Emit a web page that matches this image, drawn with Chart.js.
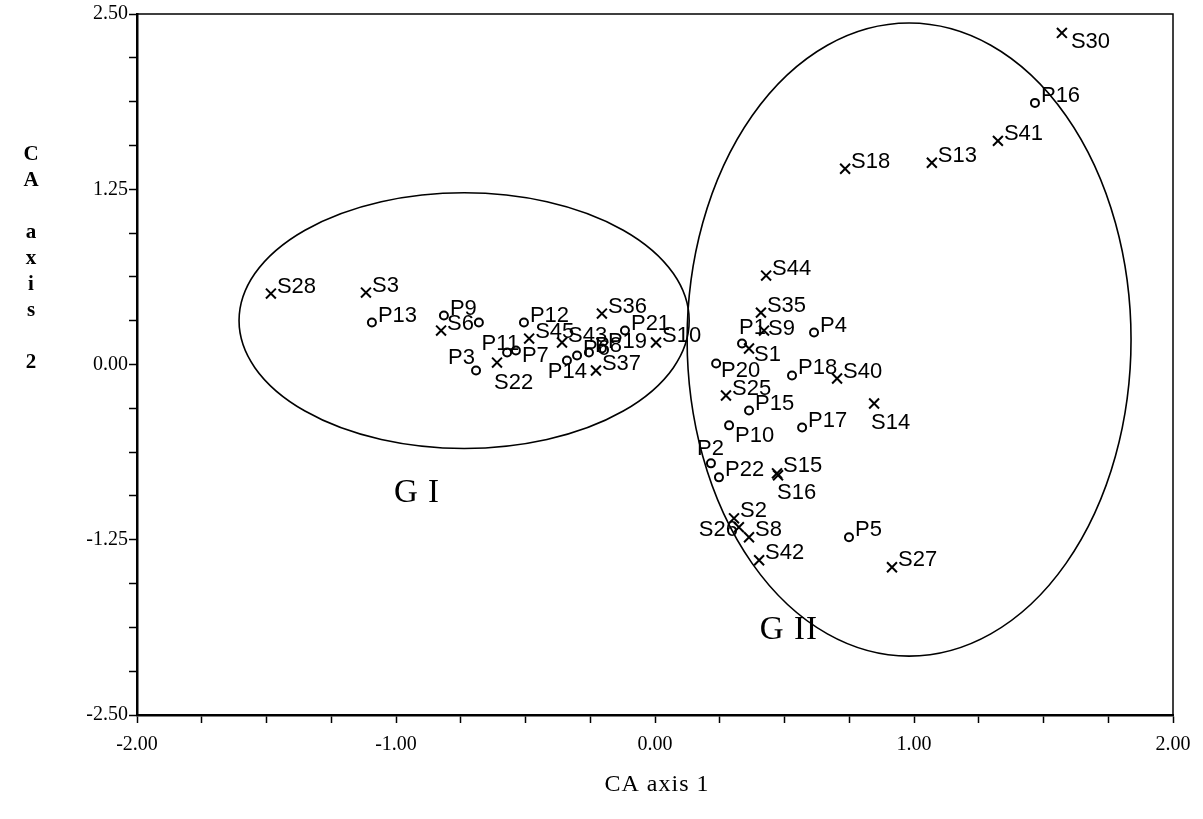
<!DOCTYPE html>
<html>
<head>
<meta charset="utf-8">
<script src="https://cdn.jsdelivr.net/npm/chart.js@4.4.1/dist/chart.umd.min.js"></script>
<style>
  html, body { margin: 0; padding: 0; background: #fff; }
  canvas { display: block; }
</style>
</head>
<body>
<canvas id="c" width="1203" height="819"></canvas>
<script>
// ---- data ----
const sNames = ['S1','S2','S3','S6','S8','S9','S10','S13','S14','S15','S16','S18','S22','S25','S26','S27','S28','S30','S35','S36','S37','S40','S41','S42','S43','S44','S45'];
const sX = [0.363, 0.305, -1.116, -0.826, 0.363, 0.421, 0.004, 1.069, 0.846, 0.471, 0.475, 0.734, -0.610, 0.274, 0.324, 0.915, -1.483, 1.571, 0.409, -0.205, -0.228, 0.703, 1.324, 0.402, -0.359, 0.429, -0.486];
const sY = [0.114, -1.097, 0.513, 0.242, -1.232, 0.242, 0.157, 1.439, -0.278, -0.776, -0.790, 1.396, 0.014, -0.221, -1.161, -1.446, 0.506, 2.365, 0.370, 0.363, -0.043, -0.100, 1.595, -1.396, 0.157, 0.634, 0.185];

const pNames = ['P1','P2','P3','P4','P5','P6','P7','P8','P9','P10','P11','P12','P13','P14','P15','P16','P17','P18','P19','P20','P21','P22',''];
const pX = [0.336, 0.216, -0.691, 0.614, 0.749, -0.301, -0.537, -0.255, -0.815, 0.286, -0.571, -0.506, -1.093, -0.340, 0.363, 1.467, 0.568, 0.529, -0.205, 0.236, -0.116, 0.247, -0.680];
const pY = [0.150, -0.705, -0.043, 0.228, -1.232, 0.064, 0.100, 0.085, 0.349, -0.434, 0.085, 0.299, 0.299, 0.028, -0.328, 1.866, -0.449, -0.078, 0.114, 0.007, 0.242, -0.805, 0.299];

// group ellipses (centre and semi-axes in data units) and their captions
const groupNames = ['G I', 'G II'];
const groupCx = [-0.737, 0.981];
const groupCy = [0.313, 0.178];
const groupRx = [0.869, 0.857];
const groupRy = [0.912, 2.258];
const groupLabelX = [-0.919, 0.517];
const groupLabelY = [-0.919, -1.895];

// axis tick settings
const xMin = -2, xMax = 2, xStep = 0.25, xLabelEvery = 1;
const yMin = -2.5, yMax = 2.5, yStep = 0.3125, yLabelEvery = 1.25;
const xTitle = 'CA axis 1';
const yTitleLines = ['C','A','','a','x','i','s','','2'];

// label placement overrides: [dx, dy, align]
const labelPlace = {
  S30: [9, 9, 'left'],
  P1: [-3, -16, 'left'],
  S1: [5, 6, 'left'],
  P20: [5, 7, 'left'],
  S14: [-3, 19, 'left'],
  S16: [-1, 18, 'left'],
  S22: [-3, 20, 'left'],
  P10: [6, 11, 'left'],
  P2: [13, -14, 'right'],
  P3: [-1, -13, 'right'],
  P11: [12, -9, 'right'],
  S26: [-1, 3, 'right'],
  P7: [6, 5, 'left'],
  P14: [20, 11, 'right'],
  S9: [4, -2, 'left']
};

const SERIF = '"Liberation Serif", "Times New Roman", serif';
const SANS = '"Liberation Sans", Arial, sans-serif';

const decor = {
  id: 'decor',
  beforeDatasetsDraw(chart) {
    const { ctx, chartArea: a, scales: { x, y } } = chart;
    ctx.save();
    // frame
    ctx.strokeStyle = '#000';
    ctx.lineWidth = 1.5;
    ctx.strokeRect(a.left, a.top, a.right - a.left, a.bottom - a.top);
    // ellipses
    ctx.lineWidth = 1.6;
    for (let i = 0; i < groupNames.length; i++) {
      const cx = x.getPixelForValue(groupCx[i]);
      const cy = y.getPixelForValue(groupCy[i]);
      const rx = Math.abs(x.getPixelForValue(groupCx[i] + groupRx[i]) - cx);
      const ry = Math.abs(y.getPixelForValue(groupCy[i] + groupRy[i]) - cy);
      ctx.beginPath();
      ctx.ellipse(cx, cy, rx, ry, 0, 0, Math.PI * 2);
      ctx.stroke();
      ctx.fillStyle = '#000';
      ctx.font = '33px ' + SERIF;
      ctx.textAlign = 'center';
      ctx.textBaseline = 'middle';
      try { ctx.letterSpacing = '1px'; } catch (e) {}
      ctx.fillText(groupNames[i], x.getPixelForValue(groupLabelX[i]), y.getPixelForValue(groupLabelY[i]));
      try { ctx.letterSpacing = '0px'; } catch (e) {}
    }
    ctx.restore();
  },
  afterDatasetsDraw(chart) {
    const { ctx, chartArea: a } = chart;
    ctx.save();
    ctx.fillStyle = '#000';
    ctx.font = '22px ' + SANS;
    ctx.textBaseline = 'middle';
    const sets = [sNames, pNames];
    sets.forEach((names, di) => {
      const meta = chart.getDatasetMeta(di);
      meta.data.forEach((el, i) => {
        const name = names[i];
        if (!name) return;
        const p = labelPlace[name] || [6, -7, 'left'];
        ctx.textAlign = p[2];
        ctx.fillText(name, el.x + p[0], el.y + p[1]);
      });
    });
    // axis titles
    ctx.font = '24px ' + SERIF;
    ctx.textAlign = 'center';
    try { ctx.letterSpacing = '1px'; } catch (e) {}
    ctx.fillText(xTitle, (a.left + a.right) / 2 + 2, 785);
    try { ctx.letterSpacing = '0px'; } catch (e) {}
    ctx.font = 'bold 21px ' + SERIF;
    yTitleLines.forEach((ch, i) => {
      if (ch) ctx.fillText(ch, 31, 155 + i * 25.9);
    });
    ctx.restore();
  }
};

const isMultiple = (v, m) => Math.abs(v / m - Math.round(v / m)) < 1e-6;

new Chart(document.getElementById('c'), {
  type: 'scatter',
  data: {
    datasets: [
      {
        label: 'S',
        data: sX.map((v, i) => ({ x: v, y: sY[i] })),
        pointStyle: 'crossRot',
        radius: 7,
        borderWidth: 2,
        borderColor: '#000',
        backgroundColor: '#000'
      },
      {
        label: 'P',
        data: pX.map((v, i) => ({ x: v, y: pY[i] })),
        pointStyle: 'circle',
        radius: 4,
        borderWidth: 2,
        borderColor: '#000',
        backgroundColor: '#fff'
      }
    ]
  },
  options: {
    responsive: false,
    animation: false,
    devicePixelRatio: 1,
    layout: { padding: { top: 14, right: 30, left: 0, bottom: 0 } },
    plugins: { legend: { display: false }, tooltip: { enabled: false } },
    events: [],
    scales: {
      x: {
        type: 'linear',
        min: xMin, max: xMax,
        afterFit(s) { s.height = 104; },
        ticks: {
          stepSize: xStep,
          autoSkip: false,
          maxRotation: 0,
          padding: 10,
          color: '#000',
          font: { family: SERIF, size: 20 },
          callback: v => isMultiple(v, xLabelEvery) ? v.toFixed(2) : ''
        },
        grid: { drawOnChartArea: false, drawTicks: true, tickLength: 8, tickWidth: 1.5, tickColor: '#000' },
        border: { display: true, color: '#000', width: 2.5 }
      },
      y: {
        type: 'linear',
        min: yMin, max: yMax,
        afterFit(s) { s.width = 137; },
        ticks: {
          stepSize: yStep,
          autoSkip: false,
          padding: 1,
          color: '#000',
          font: { family: SERIF, size: 20 },
          callback: v => isMultiple(v, yLabelEvery) ? v.toFixed(2) : ''
        },
        grid: { drawOnChartArea: false, drawTicks: true, tickLength: 8, tickWidth: 1.5, tickColor: '#000' },
        border: { display: true, color: '#000', width: 2.5 }
      }
    }
  },
  plugins: [decor]
});
</script>
</body>
</html>
